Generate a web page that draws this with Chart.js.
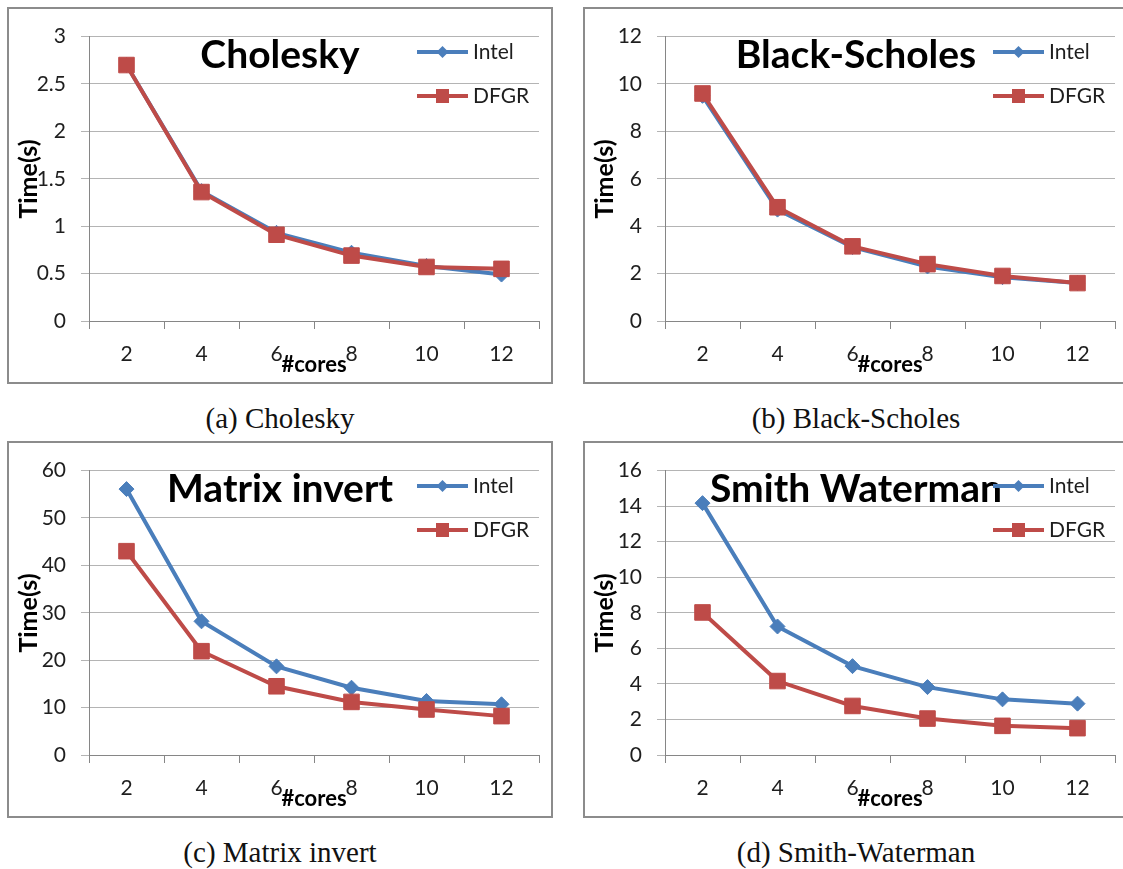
<!DOCTYPE html>
<html>
<head>
<meta charset="utf-8">
<title>Runtime vs cores</title>
<script src="https://cdn.jsdelivr.net/npm/chart.js@4/dist/chart.umd.min.js"></script>
<style>
  body { margin: 0; background: #fff; width: 1123px; height: 869px; overflow: hidden; position: relative; }
  .panel { position: absolute; width: 542px; height: 373px; border: 2px solid #8c8c8c; }
  .panel canvas { display: block; }
  .caption { position: absolute; width: 546px; text-align: center; font-family: "Liberation Serif", "Times New Roman", serif; font-size: 29px; color: #111; line-height: 30px; }
</style>
</head>
<body>

<div class="panel" style="left:7px; top:7px;"><canvas id="cholesky" width="542" height="373"></canvas></div>
<div class="panel" style="left:583px; top:7px;"><canvas id="blackScholes" width="542" height="373"></canvas></div>
<div class="panel" style="left:7px; top:441px;"><canvas id="matrixInvert" width="542" height="373"></canvas></div>
<div class="panel" style="left:583px; top:441px;"><canvas id="smithWaterman" width="542" height="373"></canvas></div>

<div class="caption" style="left:7px; top:403px;">(a) Cholesky</div>
<div class="caption" style="left:583px; top:403px;">(b) Black-Scholes</div>
<div class="caption" style="left:7px; top:837px;">(c) Matrix invert</div>
<div class="caption" style="left:583px; top:837px;">(d) Smith-Waterman</div>

<script>
// number of cores on the x axis
const cores = ['2', '4', '6', '8', '10', '12'];

// run times in seconds
const choleskyIntel = [2.7, 1.37, 0.93, 0.72, 0.58, 0.49];
const choleskyDfgr  = [2.7, 1.36, 0.91, 0.69, 0.57, 0.55];

const blackScholesIntel = [9.5, 4.7, 3.12, 2.3, 1.85, 1.6];
const blackScholesDfgr  = [9.6, 4.8, 3.15, 2.4, 1.9, 1.6];

const matrixInvertIntel = [56.1, 28.2, 18.7, 14.2, 11.4, 10.7];
const matrixInvertDfgr  = [43.0, 21.9, 14.5, 11.2, 9.6, 8.2];

const smithWatermanIntel = [14.17, 7.23, 5.0, 3.82, 3.13, 2.89];
const smithWatermanDfgr  = [8.02, 4.16, 2.76, 2.05, 1.64, 1.51];

const BLUE = '#4a7ebb';
const RED = '#be4b48';
const GRID = '#b4b4b4';
const AXIS = '#868686';
const TEXT = '#1e1e1e';
const FONT = 'Lato, "Open Sans", sans-serif';

// title, legend and axis titles all sit inside the frame, Excel style
const panelText = {
  id: 'panelText',
  afterDraw(chart, args, opts) {
    const ctx = chart.ctx;
    const area = chart.chartArea;
    ctx.save();

    // big bold title
    ctx.fillStyle = '#000';
    ctx.font = 'bold 39px ' + FONT;
    ctx.textAlign = 'center';
    ctx.textBaseline = 'alphabetic';
    ctx.fillText(opts.title, 271, 59);

    // legend
    const entries = [
      { label: 'Intel', color: BLUE, shape: 'diamond', y: 43 },
      { label: 'DFGR', color: RED, shape: 'square', y: 87 }
    ];
    entries.forEach(e => {
      ctx.strokeStyle = e.color;
      ctx.fillStyle = e.color;
      ctx.lineWidth = 4;
      ctx.beginPath();
      ctx.moveTo(408, e.y);
      ctx.lineTo(459, e.y);
      ctx.stroke();
      const cx = 433.5;
      ctx.beginPath();
      if (e.shape === 'diamond') {
        ctx.moveTo(cx, e.y - 6);
        ctx.lineTo(cx + 6, e.y);
        ctx.lineTo(cx, e.y + 6);
        ctx.lineTo(cx - 6, e.y);
        ctx.closePath();
      } else {
        ctx.rect(cx - 6.5, e.y - 7, 13, 14);
      }
      ctx.fill();
      ctx.fillStyle = TEXT;
      ctx.font = '21px ' + FONT;
      ctx.textAlign = 'left';
      ctx.textBaseline = 'middle';
      ctx.fillText(e.label, 464, e.y);
    });

    // axis titles
    ctx.fillStyle = '#000';
    ctx.font = 'bold 22px ' + FONT;
    ctx.textAlign = 'center';
    ctx.textBaseline = 'alphabetic';
    ctx.fillText('#cores', (area.left + area.right) / 2, 363);

    ctx.font = 'bold 25px ' + FONT;
    ctx.translate(20, 170);
    ctx.rotate(-Math.PI / 2);
    ctx.textBaseline = 'middle';
    ctx.fillText('Time(s)', 0, 0);

    ctx.restore();
  }
};

function buildChart(id, title, intel, dfgr, yMax, yStep) {
  return new Chart(document.getElementById(id), {
    type: 'line',
    data: {
      labels: cores,
      datasets: [
        {
          label: 'Intel',
          data: intel,
          borderColor: BLUE,
          backgroundColor: BLUE,
          borderWidth: 4,
          pointStyle: 'rectRot',
          pointRadius: 7.5,
          pointBorderWidth: 1,
          order: 1
        },
        {
          label: 'DFGR',
          data: dfgr,
          borderColor: RED,
          backgroundColor: RED,
          borderWidth: 4,
          pointStyle: 'rect',
          pointRadius: 11,
          pointBorderWidth: 1,
          order: 0
        }
      ]
    },
    options: {
      responsive: false,
      animation: false,
      devicePixelRatio: 1,
      layout: { padding: { top: 25, right: 10, left: 0, bottom: 0 } },
      plugins: {
        legend: { display: false },
        tooltip: { enabled: false },
        panelText: { title: title }
      },
      scales: {
        x: {
          offset: true,
          grid: { offset: true, drawOnChartArea: false, tickLength: 8, color: AXIS },
          border: { color: AXIS, width: 1 },
          ticks: { color: TEXT, font: { family: FONT, size: 21 }, padding: 13, maxRotation: 0 },
          afterFit: s => { s.height = 61; }
        },
        y: {
          min: 0,
          max: yMax,
          grid: { color: GRID, tickLength: 8 },
          border: { color: AXIS, width: 1 },
          ticks: {
            stepSize: yStep,
            color: TEXT,
            font: { family: FONT, size: 21 },
            padding: 15,
            callback: v => String(v)
          },
          afterFit: s => { s.width = 80; }
        }
      }
    },
    plugins: [panelText]
  });
}

buildChart('cholesky', 'Cholesky', choleskyIntel, choleskyDfgr, 3, 0.5);
buildChart('blackScholes', 'Black-Scholes', blackScholesIntel, blackScholesDfgr, 12, 2);
buildChart('matrixInvert', 'Matrix invert', matrixInvertIntel, matrixInvertDfgr, 60, 10);
buildChart('smithWaterman', 'Smith Waterman', smithWatermanIntel, smithWatermanDfgr, 16, 2);
</script>
</body>
</html>
